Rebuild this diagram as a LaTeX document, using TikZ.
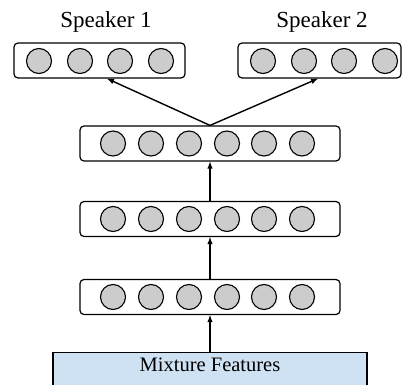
\documentclass[tikz,border=0pt]{standalone}
\usepackage{fontspec}
\setmainfont{Liberation Serif}
\usetikzlibrary{arrows}
\usetikzlibrary{positioning,shapes,fit}
\usepackage{xcolor}
\definecolor{mixblue}{HTML}{CFE2F3}

\tikzset{
  layer/.style={draw, line width=1.2pt, rounded corners=4pt, minimum height=35pt, inner sep=0pt},
  unit/.style={draw, line width=1.1pt, circle, fill=gray!40, minimum size=25pt, inner sep=0pt},
  conn/.style={-latex, line width=1.4pt},
}

\begin{document}
\begin{tikzpicture}[x=1pt,y=-1pt]
      \useasboundingbox (0,0) rectangle (407,385);
      % output layers
      \node[layer, minimum width=171pt] (s1) at (99.5,60.5) {};
      \node[layer, minimum width=163pt] (s2) at (319.5,60.5) {};
      \foreach \x [count=\i] in {39,80,120,161}
        \node[unit] (a\i) at (\x,61) {};
      \foreach \x [count=\i] in {263,304,344,385}
        \node[unit] (b\i) at (\x,61) {};
      \node[font=\fontsize{23}{26}\selectfont] (t1) at (106,22) {Speaker 1};
      \node[font=\fontsize{23}{26}\selectfont] (t2) at (322,22) {Speaker 2};
      % hidden layers
      \node[layer, minimum width=260pt] (h3) at (210,143.5) {};
      \node[layer, minimum width=260pt] (h2) at (210,219) {};
      \node[layer, minimum width=260pt] (h1) at (210,297) {};
      \foreach \y/\l in {143.5/c,219/d,297/e}
        \foreach \x [count=\i] in {113,151,189,227,264,302}
          \node[unit] (\l\i) at (\x,\y) {};
      % input
      \node[draw, line width=1.4pt, fill=mixblue, minimum width=314pt, minimum height=46pt,
            anchor=north, font=\fontsize{20.5}{24}\selectfont, text depth=22pt, inner sep=0pt] (mix) at (210,352) {Mixture Features};
      % connections
      \draw[conn] (mix.north) -- (h1.south);
      \draw[conn] (h1.north) -- (h2.south);
      \draw[conn] (h2.north) -- (h3.south);
      \draw[conn] (h3.north) -- ([xshift=7.5pt]s1.south);
      \draw[conn] (h3.north) -- ([xshift=-1.5pt]s2.south);
\end{tikzpicture}
\end{document}
